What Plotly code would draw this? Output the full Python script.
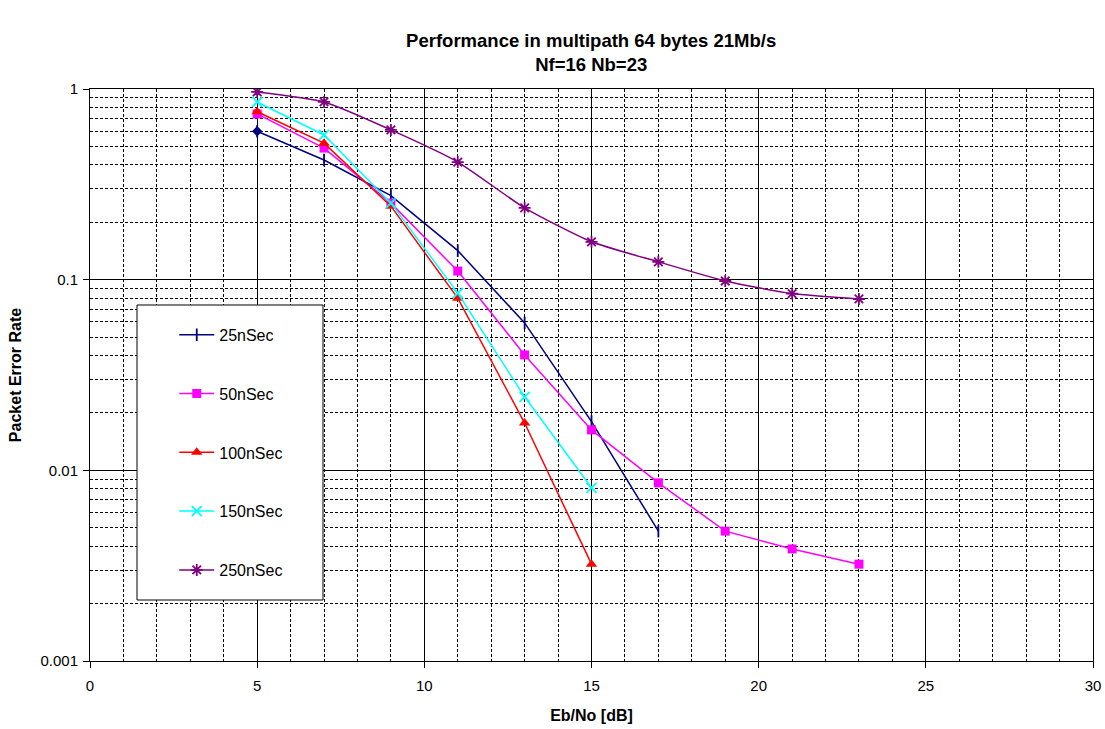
import plotly.graph_objects as go

ebno = [5, 7, 9, 11, 13, 15, 17, 19, 21, 23]

per_25 = [0.60, 0.424, 0.276, 0.142, 0.0593, 0.0180, 0.0048]
per_50 = [0.74, 0.49, 0.252, 0.111, 0.0403, 0.0163, 0.0086, 0.0048, 0.00387, 0.00322]
per_100 = [0.76, 0.52, 0.243, 0.080, 0.0177, 0.00322]
per_150 = [0.855, 0.574, 0.252, 0.085, 0.0243, 0.0081]
per_250 = [0.965, 0.855, 0.61, 0.414, 0.238, 0.158, 0.124, 0.0984, 0.0845, 0.0792]

names = ["25nSec", "50nSec", "100nSec", "150nSec", "250nSec"]
colors = ["#000080", "#FF00FF", "#FF0000", "#00FFFF", "#800080"]

title_text = "<b>Performance in multipath 64 bytes 21Mb/s<br>Nf=16 Nb=23</b>"
x_title = "<b>Eb/No [dB]</b>"
y_title = "<b>Packet Error Rate</b>"
x_ticks = [0, 5, 10, 15, 20, 25, 30]
y_ticks = [0.001, 0.01, 0.1, 1]
y_ticklabels = ["0.001", "0.01", "0.1", "1"]

FONT = "Liberation Sans, Arial, sans-serif"

fig = go.Figure()

series = [per_25, per_50, per_100, per_150, per_250]
symbols = ["line-ns", "square", "triangle-up", "x-thin-open", "asterisk-open"]
sizes = [9, 9, 10, 10, 10]

for i, (nm, col, ys, sym, sz) in enumerate(zip(names, colors, series, symbols, sizes)):
    line = dict(color=col, width=1.5)
    if nm == "250nSec":
        line.update(shape="spline", smoothing=0.6)
    fig.add_trace(go.Scatter(
        x=ebno[:len(ys)], y=ys, name=nm, mode="lines+markers",
        line=line,
        marker=dict(symbol=sym, size=sz, color=col,
                    line=dict(color=col, width=1.8 if sym in ("line-ns", "x-thin-open", "asterisk-open") else 0)),
        legendgroup=nm,
    ))

# first point of 25nSec drawn as a diamond in the reference
fig.add_trace(go.Scatter(
    x=ebno[:1], y=per_25[:1], mode="markers", showlegend=False,
    marker=dict(symbol="diamond", size=8, color=colors[0]),
))

grid_common = dict(showline=True, linecolor="black", linewidth=1, mirror=True,
                   ticks="outside", ticklen=6, tickcolor="black", automargin=False,
                   showgrid=True, gridcolor="black", gridwidth=1, zeroline=False,
                   tickfont=dict(family=FONT, size=15, color="black"))

fig.update_xaxes(range=[0, 30], tickvals=x_ticks, ticklabelstandoff=5,
                 title=dict(text=x_title, font=dict(family=FONT, size=16, color="black"), standoff=16),
                 minor=dict(dtick=1, showgrid=True, gridcolor="black", griddash="3px,2px", gridwidth=1),
                 **grid_common)
fig.update_yaxes(type="log", range=[-3, 0], tickvals=y_ticks, ticktext=y_ticklabels, ticklabelstandoff=2,
                 title=dict(text=y_title, font=dict(family=FONT, size=16, color="black"), standoff=14),
                 minor=dict(dtick="D1", showgrid=True, gridcolor="black", griddash="3px,2px", gridwidth=1),
                 **grid_common)

# legend box background
fig.add_shape(type="rect", xref="paper", yref="paper",
              x0=(137 - 90) / 1003, x1=(323 - 90) / 1003,
              y0=(661 - 600) / 572, y1=(661 - 305) / 572,
              fillcolor="white", line=dict(color="black", width=1), layer="above")

fig.update_layout(
    width=1105, height=729,
    margin=dict(l=90, r=12, t=89, b=68, autoexpand=False),
    paper_bgcolor="white", plot_bgcolor="white",
    title=dict(text=title_text, x=0.535, xanchor="center", y=0.935, yanchor="top",
               font=dict(family=FONT, size=18.5, color="black")),
    font=dict(family=FONT, color="black"),
    legend=dict(x=0.084, y=0.6, xanchor="left", yanchor="top",
                bgcolor="rgba(0,0,0,0)", borderwidth=0,
                font=dict(family=FONT, size=16, color="black"),
                tracegroupgap=35, itemwidth=35),
)

fig.write_html("out.html", config={"displayModeBar": False},
               post_script="document.body.style.margin='0';document.body.style.overflow='hidden';")
